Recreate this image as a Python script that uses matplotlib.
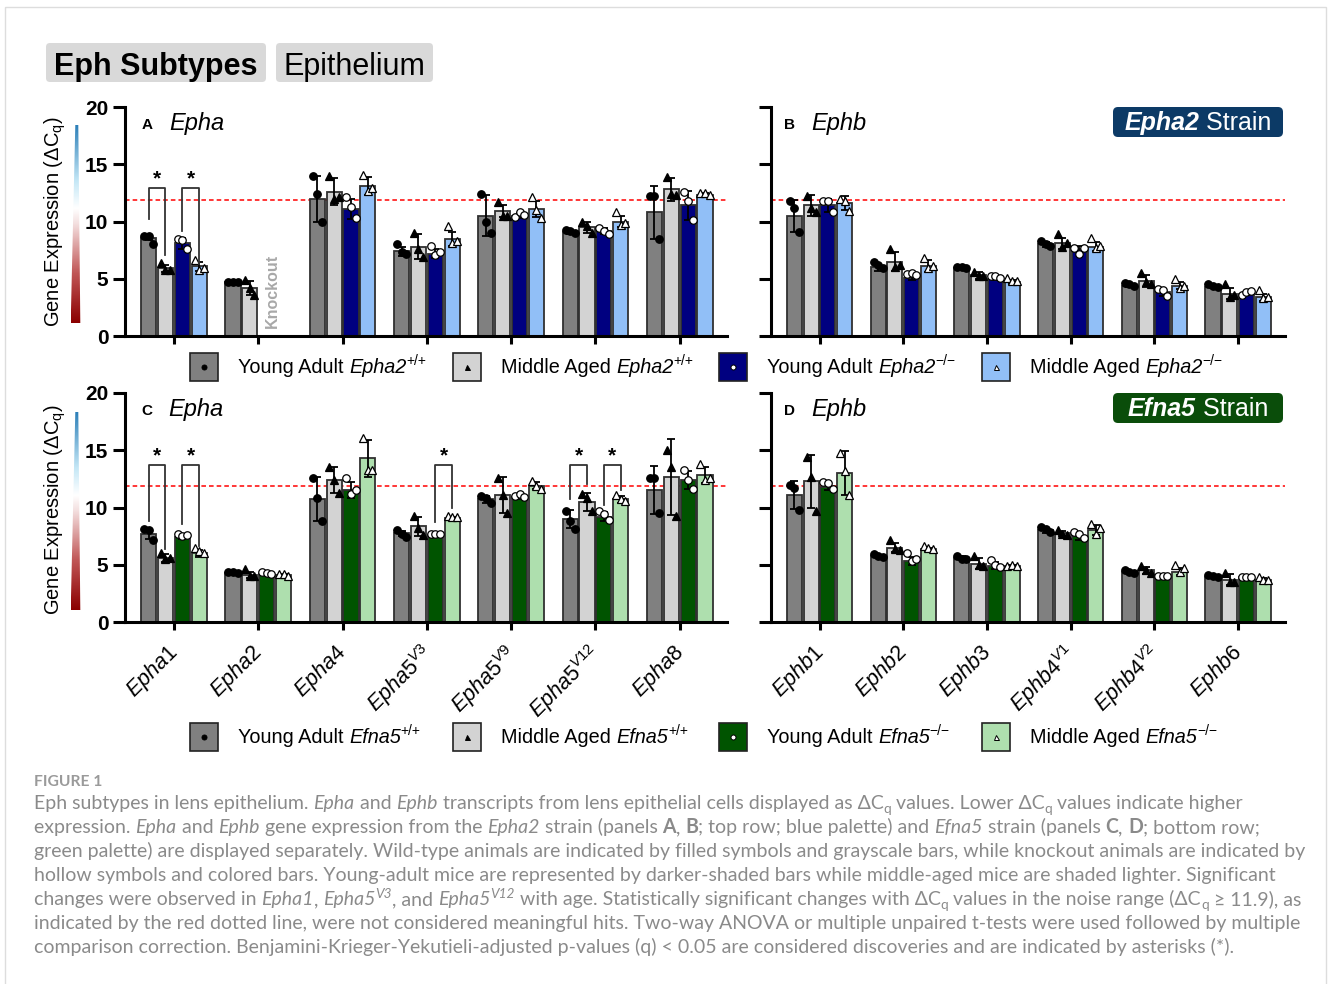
import numpy as np
import matplotlib
matplotlib.use("Agg")
import matplotlib.pyplot as plt
from matplotlib.patches import Rectangle, FancyBboxPatch, Polygon
from matplotlib.colors import LinearSegmentedColormap
from matplotlib.font_manager import FontProperties
from matplotlib.transforms import ScaledTranslation

plt.rcParams['font.family'] = 'Liberation Sans'
plt.rcParams['mathtext.fontset'] = 'custom'
plt.rcParams['mathtext.rm'] = 'Liberation Sans'
plt.rcParams['mathtext.it'] = 'Liberation Sans:italic'
plt.rcParams['mathtext.bf'] = 'Liberation Sans:bold'

nan = np.nan

# ---------------- data (columns: YA +/+, MA +/+, YA -/-, MA -/-) ----------------
epha_labels = [r"$\mathit{Epha1}$", r"$\mathit{Epha2}$", r"$\mathit{Epha4}$",
               r"$\mathit{Epha5}^{\mathit{V3}}$", r"$\mathit{Epha5}^{\mathit{V9}}$",
               r"$\mathit{Epha5}^{\mathit{V12}}$", r"$\mathit{Epha8}$"]
ephb_labels = [r"$\mathit{Ephb1}$", r"$\mathit{Ephb2}$", r"$\mathit{Ephb3}$",
               r"$\mathit{Ephb4}^{\mathit{V1}}$", r"$\mathit{Ephb4}^{\mathit{V2}}$",
               r"$\mathit{Ephb6}$"]

# panel A: Epha2 strain, Epha genes
a_mean = [[8.6, 5.9, 8.1, 6.1], [4.7, 4.2, nan, nan], [12.0, 12.6, 11.1, 13.1],
          [7.4, 7.8, 7.2, 8.5], [10.5, 10.9, 10.5, 11.1], [9.1, 9.5, 9.2, 10.0],
          [10.8, 12.8, 11.4, 12.3]]
a_sd = [[0.2, 0.3, 0.5, 0.4], [0.05, 0.6, nan, nan], [2.0, 1.2, 0.9, 0.8],
        [0.4, 1.1, 0.4, 0.6], [1.8, 0.5, 0.2, 0.7], [0.15, 0.5, 0.25, 0.5],
        [2.3, 1.0, 1.3, 0.2]]
a_pts = [[[8.7, 8.7, 8.0], [6.4, 5.8, 5.8], [8.5, 8.4, 7.6], [6.6, 5.8, 5.9]],
         [[4.7, 4.7, 4.7], [4.9, 4.2, 3.6], None, None],
         [[14.0, 12.4, 10.0], [14.0, 12.0, 12.1], [12.1, 11.3, 10.3], [14.1, 12.7, 12.9]],
         [[8.0, 7.3, 7.2], [9.0, 7.6, 6.9], [7.9, 7.1, 7.3], [9.6, 8.1, 8.3]],
         [[12.4, 10.0, 9.0], [11.7, 10.5, 10.5], [10.4, 10.8, 10.6], [12.1, 11.0, 10.3]],
         [[9.3, 9.2, 9.0], [10.0, 9.6, 9.0], [9.4, 9.2, 8.9], [10.8, 9.7, 9.9]],
         [[12.2, 12.2, 8.5], [13.9, 12.4, 12.3], [12.6, 11.8, 10.1], [12.5, 12.5, 12.3]]]

# panel B: Epha2 strain, Ephb genes
b_mean = [[10.5, 11.4, 11.4, 11.6], [6.0, 6.5, 5.1, 6.1], [5.9, 5.3, 5.0, 4.7],
          [8.0, 8.1, 7.6, 7.8], [4.4, 4.8, 3.8, 4.4], [4.25, 3.7, 3.7, 3.4]]
b_sd = [[1.4, 0.9, 0.6, 0.6], [0.3, 0.8, 0.2, 0.5], [0.1, 0.3, 0.1, 0.2],
        [0.2, 0.5, 0.3, 0.4], [0.1, 0.5, 0.3, 0.3], [0.1, 0.5, 0.1, 0.3]]
b_pts = [[[11.8, 11.2, 9.1], [12.2, 11.2, 10.8], [11.8, 11.8, 10.8], [12.0, 11.8, 10.9]],
         [[6.5, 6.2, 5.9], [7.6, 6.0, 6.2], [5.4, 5.5, 5.3], [6.8, 5.9, 6.1]],
         [[6.0, 6.0, 5.9], [5.6, 5.2, 5.2], [5.2, 5.2, 5.1], [5.1, 4.8, 4.8]],
         [[8.3, 8.0, 7.9], [8.9, 7.8, 8.1], [7.7, 7.2, 7.7], [8.6, 7.7, 7.9]],
         [[4.6, 4.5, 4.4], [5.5, 4.7, 4.5], [4.1, 4.0, 3.5], [5.0, 4.2, 4.4]],
         [[4.5, 4.4, 4.3], [4.5, 3.4, 3.6], [3.6, 3.8, 3.9], [4.0, 3.3, 3.4]]]

# panel C: Efna5 strain, Epha genes
c_mean = [[7.7, 5.55, 7.4, 6.0], [4.3, 4.1, 4.2, 4.1], [10.75, 12.4, 11.5, 14.3],
          [7.75, 8.35, 7.6, 9.1], [10.7, 11.1, 10.9, 11.9], [9.0, 10.5, 9.2, 10.7],
          [11.55, 12.65, 12.4, 12.85]]
c_sd = [[0.45, 0.35, 0.15, 0.3], [0.1, 0.3, 0.1, 0.1], [1.9, 1.1, 0.7, 1.6],
        [0.2, 0.8, 0.05, 0.1], [0.3, 1.6, 0.15, 0.3], [0.8, 0.8, 0.4, 0.3],
        [2.1, 3.3, 0.8, 0.7]]
c_pts = [[[8.1, 8.0, 7.2], [6.0, 5.5, 5.6], [7.7, 7.5, 7.6], [6.5, 6.2, 6.0]],
         [[4.4, 4.4, 4.3], [4.6, 4.0, 4.0], [4.4, 4.3, 4.2], [4.2, 4.2, 4.0]],
         [[12.6, 10.8, 8.8], [13.5, 12.4, 11.3], [12.6, 11.2, 11.5], [16.1, 13.3, 13.3]],
         [[8.0, 7.7, 7.4], [9.3, 8.2, 7.6], [7.7, 7.7, 7.7], [9.3, 9.2, 9.2]],
         [[11.0, 10.8, 10.4], [12.6, 11.1, 9.5], [11.0, 11.2, 10.9], [12.3, 11.9, 11.6]],
         [[9.7, 8.8, 8.1], [11.2, 10.8, 9.7], [9.7, 9.4, 8.9], [11.1, 10.7, 10.6]],
         [[12.6, 12.6, 9.5], [15.0, 13.5, 9.3], [13.3, 12.4, 11.6], [13.8, 12.4, 12.6]]]

# panel D: Efna5 strain, Ephb genes
d_mean = [[11.1, 12.3, 11.8, 13.0], [5.75, 6.5, 5.3, 6.35], [5.6, 5.1, 4.9, 4.9],
          [8.0, 7.75, 7.5, 8.05], [4.35, 4.5, 3.95, 4.4], [3.95, 3.7, 3.95, 3.7]]
d_sd = [[1.2, 2.3, 0.3, 1.9], [0.1, 0.4, 0.35, 0.15], [0.2, 0.45, 0.3, 0.05],
        [0.2, 0.2, 0.3, 0.45], [0.1, 0.3, 0.05, 0.3], [0.1, 0.45, 0.05, 0.15]]
d_pts = [[[12.0, 11.7, 9.8], [14.4, 12.7, 9.7], [12.2, 12.1, 11.6], [14.8, 13.2, 11.1]],
         [[5.9, 5.8, 5.7], [7.2, 6.4, 6.3], [6.0, 5.3, 5.5], [6.6, 6.5, 6.4]],
         [[5.8, 5.5, 5.5], [5.8, 5.0, 4.9], [5.4, 5.0, 4.8], [4.9, 5.0, 4.9]],
         [[8.3, 8.1, 7.9], [8.0, 7.7, 7.6], [7.9, 7.7, 7.3], [8.6, 7.7, 8.2]],
         [[4.5, 4.4, 4.3], [4.9, 4.5, 4.3], [4.0, 4.0, 4.0], [5.0, 4.4, 4.7]],
         [[4.1, 4.0, 3.9], [4.3, 3.5, 3.5], [3.9, 3.9, 3.9], [3.9, 3.7, 3.7]]]

# significance brackets: (gene, bar_left, bar_right, left leg end, right leg end)
a_sig = [(0, 0, 1, 10.2, 7.1), (0, 2, 3, 9.2, 6.3)]
a_sig_top = 12.9
c_sig = [(0, 0, 1, 8.8, 6.4), (0, 2, 3, 8.6, 6.6), (3, 2, 3, 8.7, 10.0),
         (5, 0, 1, 10.7, 12.05), (5, 2, 3, 10.25, 11.55)]
c_sig_top = 13.7
noise_level = 11.9

# ---------------- style ----------------
wt_colors = ["#808080", "#d3d3d3"]
epha2_ko_colors = ["#000080", "#91bff7"]
efna5_ko_colors = ["#005400", "#aedfae"]
markers = ['o', '^', 'o', '^']
faces = ['black', 'black', 'white', 'white']
offsets = [-0.3, -0.1, 0.1, 0.3]
jitter = np.array([-0.055, 0.0, 0.055])

W, H = 1328, 984
fig = plt.figure(figsize=(W / 100, H / 100), dpi=100)


def px_axes(l, t, r, b):
    return fig.add_axes([l / W, 1 - b / H, (r - l) / W, (b - t) / H], zorder=1)


def draw_panel(ax, means, sds, pts, colors, labels, show_labels, show_yticklabels):
    n = len(means)
    x = np.arange(n)
    for j in range(4):
        m = np.array([row[j] for row in means])
        s = np.array([row[j] for row in sds])
        xs = x + offsets[j]
        ax.bar(xs, m, width=0.18, color=colors[j], edgecolor='#303030', linewidth=1.3, zorder=2)
        ax.errorbar(xs, m, yerr=s, fmt='none', ecolor='black', elinewidth=1.3,
                    capsize=3.2, capthick=1.3, zorder=3)
        for i in range(n):
            p = pts[i][j]
            if p is None:
                continue
            ax.plot(xs[i] + jitter, p, ls='none', marker=markers[j], mfc=faces[j],
                    mec='black', mew=0.9, ms=5.4, zorder=4)
    ax.axhline(noise_level, color='#ff0000', ls=(0, (3, 2)), lw=1.1, zorder=1)
    ax.set_ylim(0, 20)
    ax.set_yticks([0, 5, 10, 15, 20])
    ax.set_xlim(-0.58, n - 1 + 0.56)
    ax.set_facecolor('none')
    for sp in ['top', 'right']:
        ax.spines[sp].set_visible(False)
    for sp in ['left', 'bottom']:
        ax.spines[sp].set_linewidth(2.2)
    ax.tick_params(axis='y', length=9, width=2.2, pad=3)
    ax.tick_params(axis='x', length=6, width=2.2)
    ax.set_xticks(x)
    if show_labels:
        ax.set_xticklabels(labels, rotation=45, ha='right', va='top',
                           rotation_mode='anchor', fontsize=15.5)
        ax.tick_params(axis='x', pad=6)
        shift = ScaledTranslation(-8 / 100, -2 / 100, fig.dpi_scale_trans)
        for lab in ax.get_xticklabels():
            lab.set_transform(lab.get_transform() + shift)
    else:
        ax.set_xticklabels([])
    if show_yticklabels:
        ax.set_yticklabels(['0', '5', '10', '15', '20'], fontsize=15, fontweight='bold')
    else:
        ax.set_yticklabels([])


def draw_sig(ax, sig, top):
    for g, b1, b2, e1, e2 in sig:
        x1 = g + offsets[b1]
        x2 = g + offsets[b2]
        ax.plot([x1, x1, x2, x2], [e1, top, top, e2], color='#333333', lw=1.3, zorder=5)
        ax.text((x1 + x2) / 2, top + 0.35, '*', ha='center', va='baseline',
                fontsize=15, fontweight='bold')


axA = px_axes(125, 107, 727, 336)
axB = px_axes(771, 107, 1285, 336)
axC = px_axes(125, 393, 727, 622)
axD = px_axes(771, 393, 1285, 622)

draw_panel(axA, a_mean, a_sd, a_pts, wt_colors + epha2_ko_colors, epha_labels, False, True)
draw_panel(axB, b_mean, b_sd, b_pts, wt_colors + epha2_ko_colors, ephb_labels, False, False)
draw_panel(axC, c_mean, c_sd, c_pts, wt_colors + efna5_ko_colors, epha_labels, True, True)
draw_panel(axD, d_mean, d_sd, d_pts, wt_colors + efna5_ko_colors, ephb_labels, True, False)
draw_sig(axA, a_sig, a_sig_top)
draw_sig(axC, c_sig, c_sig_top)

# ---------------- overlay in pixel coordinates ----------------
ov = fig.add_axes([0, 0, 1, 1], zorder=0)
ov.axis('off')
renderer = fig.canvas.get_renderer()


def style_props(st, size, family):
    italic = st in ('i', 'bi', 'isup')
    bold = st in ('b', 'bi')
    fs = size * 0.7 if st in ('sub', 'sup', 'isup') else size
    return FontProperties(family=family, size=fs, style='italic' if italic else 'normal',
                          weight='bold' if bold else 'normal')


def seg_width(s, fp):
    w0 = renderer.get_text_width_height_descent('||', fp, ismath=False)[0]
    w1 = renderer.get_text_width_height_descent('|' + s + '|', fp, ismath=False)[0]
    return w1 - w0


def rich(x, y, parts, size, color='black', family='Liberation Sans', ha='left'):
    fps = [style_props(st, size, family) for _, st in parts]
    ws = [seg_width(s, fp) for (s, _), fp in zip(parts, fps)]
    total = sum(ws)
    cx = x - total / 2 if ha == 'center' else x
    spx = size * 100 / 72
    for (s, st), fp, w in zip(parts, fps, ws):
        dy = 0
        if st == 'sub':
            dy = 0.22 * spx
        elif st in ('sup', 'isup'):
            dy = -0.38 * spx
        ov.text(cx, y + dy, s, fontproperties=fp, color=color, ha='left', va='baseline')
        cx += w
    return total


# figure frame
ov.add_patch(Rectangle((4.5, 6.5), 1321, 990, fill=False, ec='#dddddd', lw=1))

# header boxes
ov.add_patch(FancyBboxPatch((46, 43), 220, 39, boxstyle='round,pad=0,rounding_size=4',
                            fc='#d9d9d9', ec='none'))
ov.add_patch(FancyBboxPatch((276, 43), 157, 39, boxstyle='round,pad=0,rounding_size=4',
                            fc='#d9d9d9', ec='none'))
ov.text(156, 63, 'Eph Subtypes', fontsize=22, fontweight='bold', ha='center', va='center_baseline')
ov.text(354.5, 63, 'Epithelium', fontsize=22, ha='center', va='center_baseline')

# strain badges
ov.add_patch(FancyBboxPatch((1113, 107), 170, 30, boxstyle='round,pad=0,rounding_size=5',
                            fc='#0c3a66', ec='none'))
rich(1198, 130, [('Epha2', 'bi'), (' Strain', 'n')], 18, color='white', ha='center')
ov.add_patch(FancyBboxPatch((1113, 393), 170, 30, boxstyle='round,pad=0,rounding_size=5',
                            fc='#0a4d0a', ec='none'))
rich(1198, 416, [('Efna5', 'bi'), (' Strain', 'n')], 18, color='white', ha='center')

# panel titles
for lx, ly, letter, gene in [(142, 129, 'A', 'Epha'), (784, 129, 'B', 'Ephb'),
                             (141, 415, 'C', 'Epha'), (784, 415, 'D', 'Ephb')]:
    ov.text(lx, ly, letter, fontsize=11, fontweight='bold', va='baseline')
    ov.text(lx + 27, ly + 1, gene, fontsize=17, style='italic', va='baseline')

# knockout note
ov.text(272, 291, 'Knockout', rotation=90, ha='center', va='center', fontsize=11.5,
        fontweight='bold', color='#a8a8a8')

# y labels and gradient wedges
grad = LinearSegmentedColormap.from_list('grad', [(0, '#8b0000'), (0.25, '#c05555'),
                                                  (0.5, '#f3dede'), (0.58, '#ffffff'),
                                                  (0.72, '#c4e7f6'), (1.0, '#2c7fb8')])
for top, bot, cy in [(125, 323, 222), (412, 610, 510)]:
    ov.text(55, cy, r'Gene Expression (Δ$\mathregular{C_q}$)', rotation=90, ha='center',
            va='center', fontsize=14.5)
    wedge = Polygon([(70.7, bot), (80.3, bot), (78.3, top), (75.3, top)], closed=True,
                    fc='none', ec='none')
    ov.add_patch(wedge)
    im = ov.imshow(np.linspace(0, 1, 256).reshape(-1, 1), cmap=grad, aspect='auto',
                   extent=(70.7, 80.3, bot, top), origin='lower')
    im.set_clip_path(wedge)

# legends
legend_x = [190, 453, 719, 982]
for cy, ko_colors, gene in [(367, epha2_ko_colors, 'Epha2'), (737, efna5_ko_colors, 'Efna5')]:
    cols = wt_colors + ko_colors
    entries = [('Young Adult ', '+/+'), ('Middle Aged ', '+/+'),
               ('Young Adult ', '\u2212/\u2212'), ('Middle Aged ', '\u2212/\u2212')]
    for k in range(4):
        ov.add_patch(Rectangle((legend_x[k], cy - 14), 28, 28, fc=cols[k], ec='#222222', lw=1.2))
        ov.plot(legend_x[k] + 14, cy, marker=markers[k], ms=3.6, mfc=faces[k], mec='black', mew=0.7)
        rich(legend_x[k] + 48, cy + 6, [(entries[k][0], 'n'), (gene, 'i'), (entries[k][1], 'sup')], 14.3)

# caption
cap_family = ['Lato', 'DejaVu Sans']
cap_color = '#8a8a8a'
caption = [
    [("Eph subtypes in lens epithelium. ", 'n'), ("Epha", 'i'), (" and ", 'n'), ("Ephb", 'i'),
     (" transcripts from lens epithelial cells displayed as \u0394C", 'n'), ("q", 'sub'),
     (" values. Lower \u0394C", 'n'), ("q", 'sub'), (" values indicate higher", 'n')],
    [("expression. ", 'n'), ("Epha", 'i'), (" and ", 'n'), ("Ephb", 'i'),
     (" gene expression from the ", 'n'), ("Epha2", 'i'), (" strain (panels ", 'n'), ("A", 'b'),
     (", ", 'n'), ("B", 'b'), ("; top row; blue palette) and ", 'n'), ("Efna5", 'i'),
     (" strain (panels ", 'n'), ("C", 'b'), (", ", 'n'), ("D", 'b'), ("; bottom row;", 'n')],
    [("green palette) are displayed separately. Wild-type animals are indicated by filled symbols "
      "and grayscale bars, while knockout animals are indicated by", 'n')],
    [("hollow symbols and colored bars. Young-adult mice are represented by darker-shaded bars "
      "while middle-aged mice are shaded lighter. Significant", 'n')],
    [("changes were observed in ", 'n'), ("Epha1", 'i'), (", ", 'n'), ("Epha5", 'i'), ("V3", 'isup'),
     (", and ", 'n'), ("Epha5", 'i'), ("V12", 'isup'),
     (" with age. Statistically significant changes with \u0394C", 'n'), ("q", 'sub'),
     (" values in the noise range (\u0394C", 'n'), ("q", 'sub'), (" \u2265 11.9), as", 'n')],
    [("indicated by the red dotted line, were not considered meaningful hits. Two-way ANOVA or "
      "multiple unpaired t-tests were used followed by multiple", 'n')],
    [("comparison correction. Benjamini-Krieger-Yekutieli-adjusted p-values (q) < 0.05 are "
      "considered discoveries and are indicated by asterisks (*).", 'n')],
]
ref_w = seg_width(caption[3][0][0], style_props('n', 10, cap_family))
cap_size = 10 * 1244 / ref_w
ov.text(34, 786, 'FIGURE 1', fontsize=cap_size * 0.8, fontweight='bold', color='#9a9a9a',
        family=cap_family, va='baseline')
for k, line in enumerate(caption):
    rich(34, 809 + 24 * k, line, cap_size, color=cap_color, family=cap_family)

ov.set_xlim(0, W)
ov.set_ylim(H, 0)

fig.savefig('out.png', dpi=100)
